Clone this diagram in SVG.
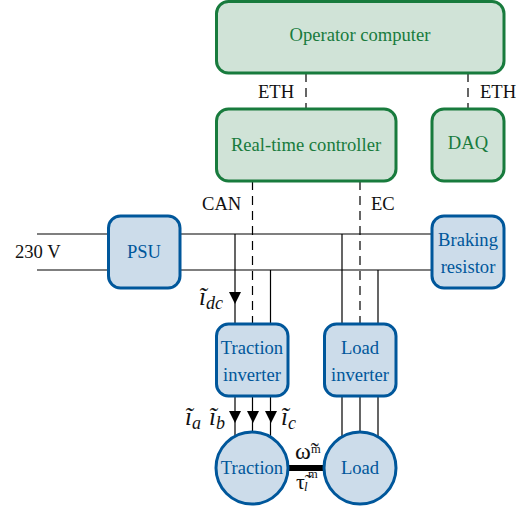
<svg xmlns="http://www.w3.org/2000/svg" width="525" height="509" viewBox="0 0 525 509">
<style>
text{font-family:"Liberation Serif","Times New Roman",serif;font-size:18.6px;text-anchor:middle}
.g rect{fill:#d0e3d7;stroke:#187b3d;stroke-width:3}
.g text{fill:#187b3d}
.b rect,.b circle{fill:#ccdcea;stroke:#00579b;stroke-width:3}
.b text{fill:#00579b}
.l{fill:#111}
.l text{text-anchor:start}
.l .i{font-style:italic;font-size:25px}
.l .s{font-style:italic;font-size:18px}
.l .m{font-size:12.500px}
.c line,.c path{stroke:#000;stroke-width:1.2;fill:none}
.c .d{stroke-dasharray:9 6}
.c polygon{fill:#000}
</style>
<g id="connectors" class="c">
<path d="M37 234H109M37 270H109M180 234H432M180 270H432"/>
<path d="M235 234V324M270.500 270V324M342 234V324M378 270V324"/>
<path d="M235 396V436M252.500 396V432M270.500 396V436M342 396V440M360 396V432M378 396V440"/>
<path class="d" d="M306 73V109M468 73V109M252.500 181V324M360 181V324"/>
<polygon points="229,292 241,292 235,304"/>
<polygon points="229,411 241,411 235,423"/>
<polygon points="247,411 259,411 253,423"/>
<polygon points="265,411 277,411 271,423"/>
<line x1="288" y1="468" x2="324" y2="468" style="stroke-width:6"/>
</g>
<g id="operator" class="g"><rect x="216.500" y="1.500" width="287.500" height="71.500" rx="12"/><text x="360" y="41">Operator computer</text></g>
<g id="controller" class="g"><rect x="216.500" y="109" width="179.500" height="72" rx="12"/><text x="306" y="151">Real-time controller</text></g>
<g id="daq" class="g"><rect x="432" y="109" width="72" height="72" rx="12"/><text x="468" y="149">DAQ</text></g>
<g id="psu" class="b"><rect x="108.500" y="216" width="71.500" height="72" rx="12"/><text x="144" y="258">PSU</text></g>
<g id="braking" class="b"><rect x="432" y="216" width="72" height="72" rx="12"/><text x="468" y="246">Braking</text><text x="468" y="273">resistor</text></g>
<g id="traction-inverter" class="b"><rect x="216.500" y="324" width="71.500" height="72" rx="12"/><text x="252" y="354">Traction</text><text x="252" y="381">inverter</text></g>
<g id="load-inverter" class="b"><rect x="324.500" y="324" width="71.500" height="72" rx="12"/><text x="360" y="354">Load</text><text x="360" y="381">inverter</text></g>
<g id="traction" class="b"><circle cx="252" cy="468" r="36"/><text x="252" y="474">Traction</text></g>
<g id="load" class="b"><circle cx="360" cy="468" r="36"/><text x="360" y="474">Load</text></g>
<g id="labels" class="l">
<text x="258" y="98">ETH</text><text x="480" y="98">ETH</text>
<text x="202" y="210">CAN</text><text x="371" y="210">EC</text>
<text x="15" y="258">230 V</text>
<text class="i" x="199" y="305">ĩ</text><text class="s" x="206" y="309">dc</text>
<text class="i" x="185" y="425">ĩ</text><text class="s" x="192" y="429">a</text>
<text class="i" x="209" y="425">ĩ</text><text class="s" x="216" y="429">b</text>
<text class="i" x="281" y="425">ĩ</text><text class="s" x="288" y="429">c</text>
<text x="295" y="459" style="font-size:24px">ω̃</text><text class="m" x="311" y="453">m</text>
<text x="296" y="489" style="font-size:22px">τ̃</text><text class="m" x="308" y="478">m</text><text class="s" style="font-size:13px" x="304" y="491">l</text>
</g>
</svg>
